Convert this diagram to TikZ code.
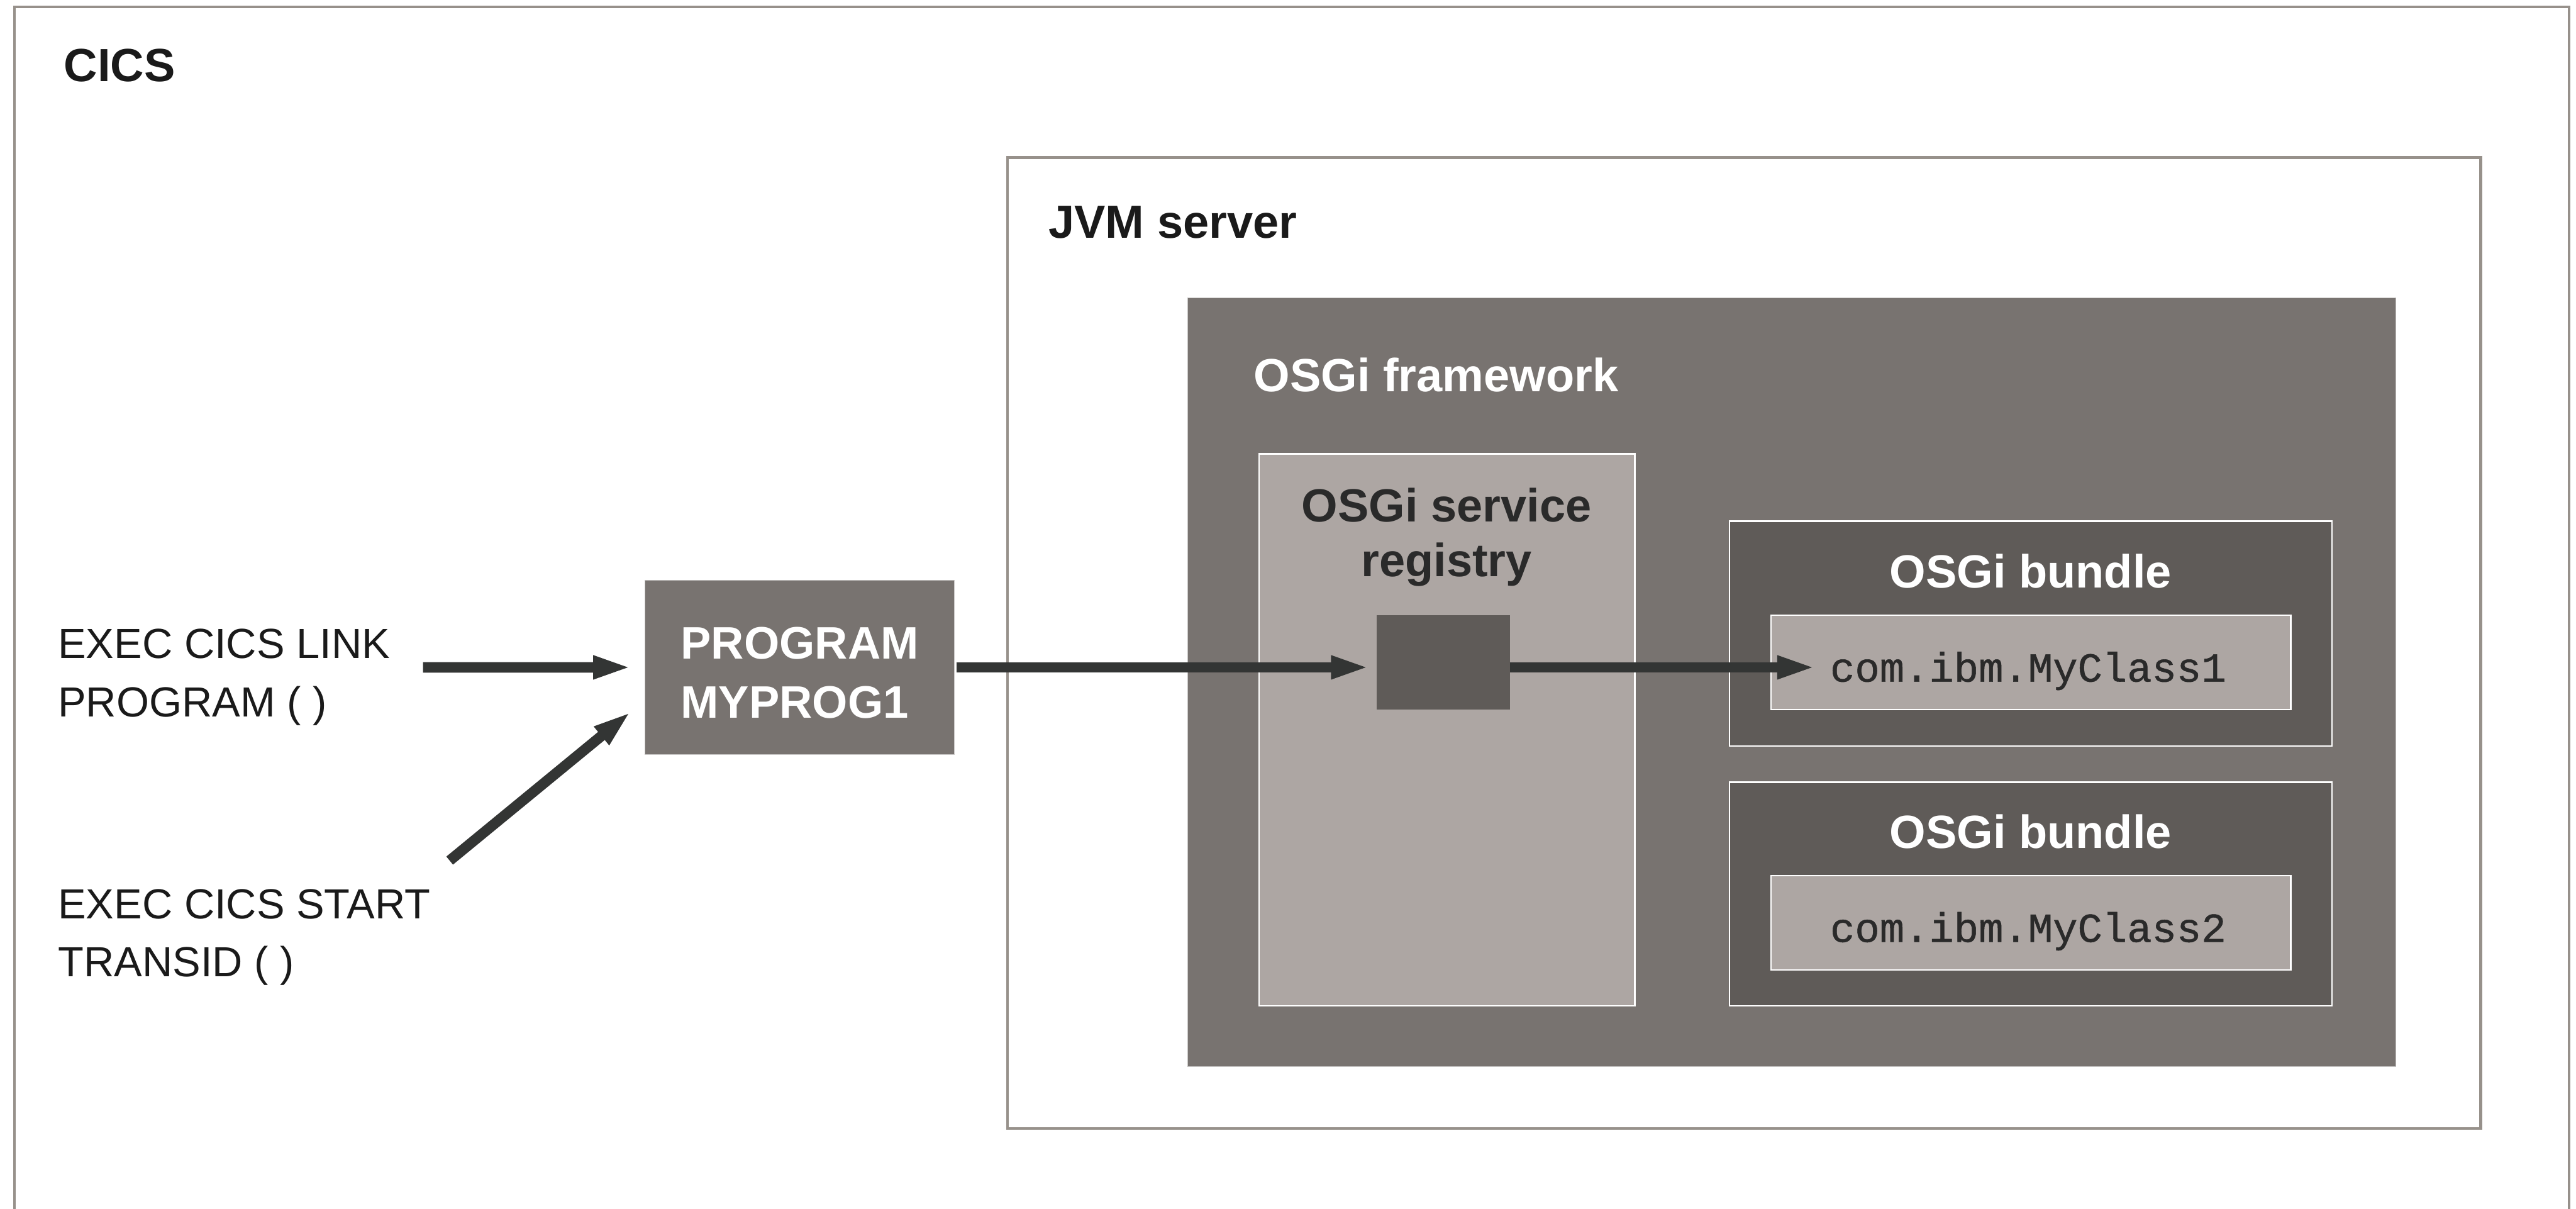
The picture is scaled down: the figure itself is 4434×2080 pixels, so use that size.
\documentclass[tikz,border=0pt]{standalone}
\usepackage{fontspec}
\setmainfont{Liberation Sans}
\newfontfamily\monofont[FakeBold=0.8]{Liberation Mono}
\usetikzlibrary{arrows.meta,calc}
\definecolor{bordergrey}{HTML}{97918B}
\definecolor{fwgrey}{HTML}{787370}
\definecolor{lightgrey}{HTML}{ADA6A3}
\definecolor{darkgrey}{HTML}{5F5B58}
\definecolor{arrowc}{HTML}{333534}
\definecolor{textdark}{HTML}{1A1A1A}
\definecolor{textgrey}{HTML}{2A2A2A}
\begin{document}
\begin{tikzpicture}[x=0.1mm,y=-0.1mm,
  box/.style={rectangle, inner sep=0pt, outer sep=0pt, anchor=north west},
  outerbox/.style={box, draw=bordergrey, line width=0.5mm, fill=white},
  fwbox/.style={box, fill=fwgrey, draw=white!55!fwgrey, line width=0.12mm},
  regbox/.style={box, fill=lightgrey, draw=white, line width=0.25mm},
  bundlebox/.style={box, fill=darkgrey, draw=white, line width=0.25mm},
  classbox/.style={box, fill=lightgrey, draw=white, line width=0.25mm},
  progbox/.style={box, fill=fwgrey, draw=white!60!fwgrey, line width=0.1mm},
  sqbox/.style={box, fill=darkgrey},
  title/.style={inner sep=0pt, outer sep=0pt, text=textdark, font=\fontsize{22.8}{27}\selectfont\bfseries},
  plaintext/.style={inner sep=0pt, outer sep=0pt, text=textdark, align=left, font=\fontsize{20.6}{28.45}\selectfont},
  monotext/.style={inner sep=0pt, outer sep=0pt, text=textgrey, font=\fontsize{20.2}{24}\selectfont\monofont},
  arr/.style={draw=arrowc, line width=1.8mm, -{Triangle[length=6.7mm,width=3.6mm]}}
]
\useasboundingbox (0,0) rectangle (4434,2080);
\clip (0,0) rectangle (4434,2080);

% containers
\node[outerbox, minimum width=439.7mm, minimum height=208.8mm] (cics) at (25,12) {};
\node[outerbox, minimum width=253.6mm, minimum height=167.1mm] (jvm) at (1734,271) {};
\node[fwbox, minimum width=208mm, minimum height=132.2mm] (fw) at (2044,513) {};
\node[regbox, minimum width=64.7mm, minimum height=95mm] (reg) at (2167,781) {};
\node[sqbox, minimum width=22.9mm, minimum height=16.2mm] (sq) at (2370,1059) {};
\node[bundlebox, minimum width=103.7mm, minimum height=38.7mm] (b1) at (2977,897) {};
\node[classbox, minimum width=89.5mm, minimum height=16.2mm] (c1) at (3048,1059) {};
\node[bundlebox, minimum width=103.7mm, minimum height=38.5mm] (b2) at (2977,1346) {};
\node[classbox, minimum width=89.5mm, minimum height=16.2mm] (c2) at (3048,1507) {};
\node[progbox, minimum width=53.3mm, minimum height=29.9mm] (prog) at (1110,999) {};

% labels (multi-line nodes: base anchor = last line's baseline)
\node[title, anchor=base west] (cicslabel) at (110,140) {CICS};
\node[title, anchor=base west] (jvmlabel) at (1805,410) {JVM server};
\node[title, text=white, anchor=base west] (fwlabel) at (2158,674) {OSGi framework};
\node[title, text=textgrey, align=center, anchor=base, font=\fontsize{22.8}{26.7}\selectfont\bfseries] (reglabel) at (2490,992) {OSGi service\\registry};
\node[title, text=white, align=left, anchor=base west, font=\fontsize{22.3}{29}\selectfont\bfseries] (proglabel) at (1172,1236) {PROGRAM\\MYPROG1};
\node[title, text=white, anchor=base] (b1label) at (3495,1012) {OSGi bundle};
\node[title, text=white, anchor=base] (b2label) at (3495,1460) {OSGi bundle};
\node[monotext, anchor=base] (c1label) at (3491,1173) {com.ibm.MyClass1};
\node[monotext, anchor=base] (c2label) at (3491,1621) {com.ibm.MyClass2};
\node[plaintext, anchor=base west] (link) at (100,1233) {EXEC CICS LINK\\PROGRAM ( )};
\node[plaintext, anchor=base west] (start) at (100,1681) {EXEC CICS START\\TRANSID ( )};

% connectors
\coordinate (linktail) at (728,1148.5);
\coordinate (starttail) at (774,1481);
\draw[arr] (linktail) -- ($(prog.west)+(-22,0)$);
\draw[arr] (starttail) -- ($(prog.west)+(-23,75.5)$);
\draw[arr] ($(prog.east)+(3,0)$) -- ($(sq.west |- prog.east)+(-12,0)$);
\draw[arr] (sq.east |- prog.east) -- ($(c1.west |- prog.east)+(78,0)$);
\end{tikzpicture}
\end{document}
